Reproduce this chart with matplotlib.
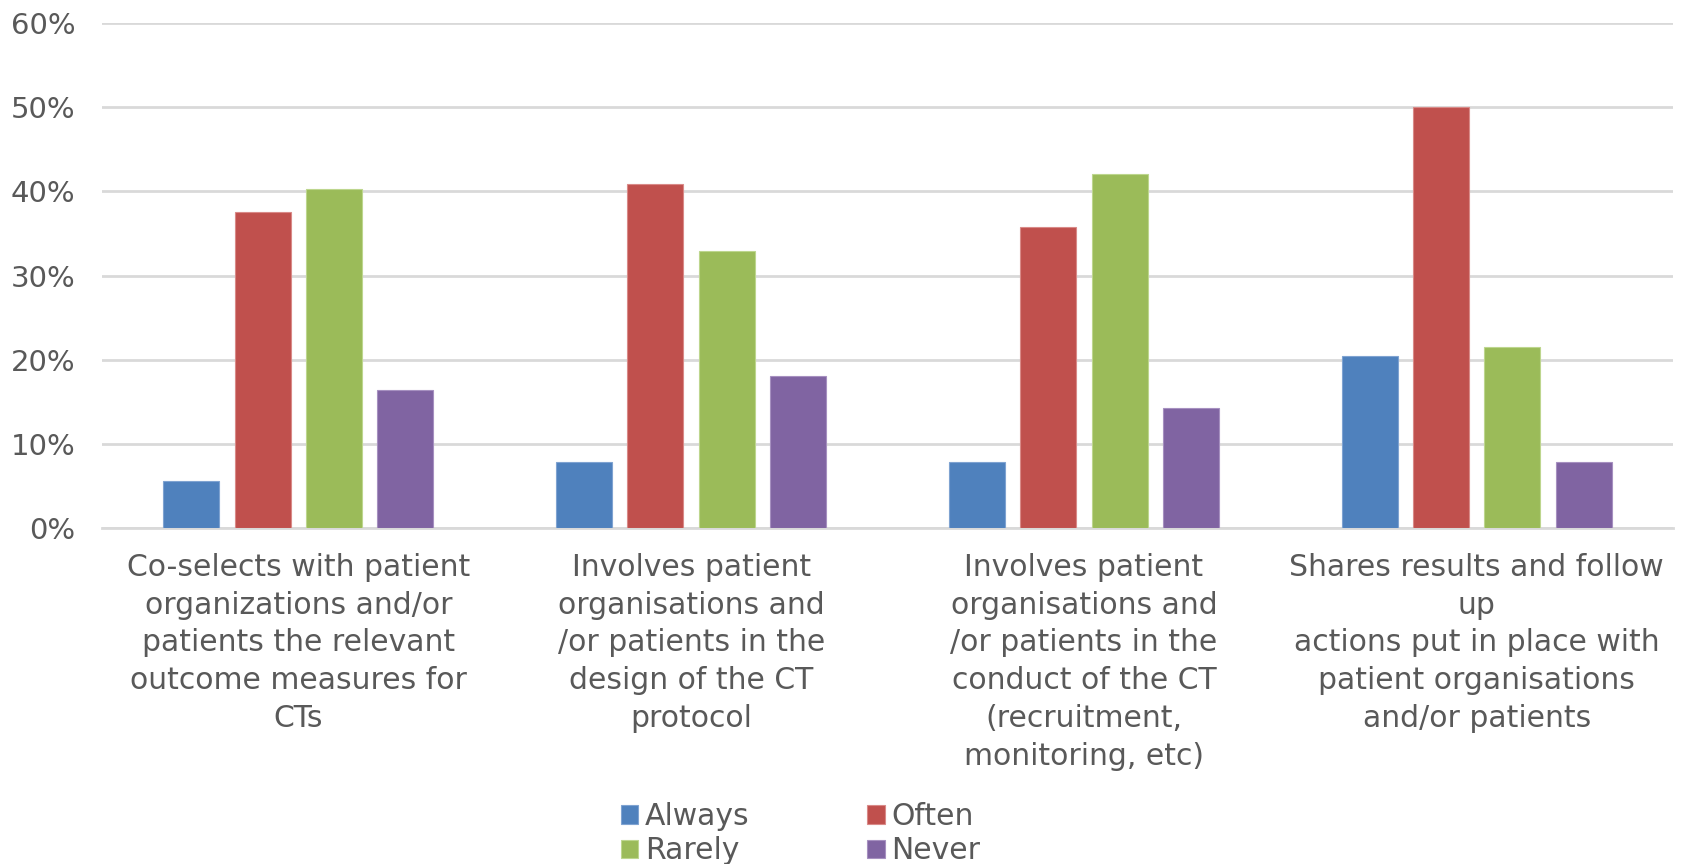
import matplotlib
matplotlib.use("Agg")
import matplotlib.pyplot as plt
import numpy as np
from matplotlib.ticker import FuncFormatter

categories = [
    "Co-selects with patient\norganizations and/or\npatients the relevant\noutcome measures for\nCTs",
    "Involves patient\norganisations and\n/or patients in the\ndesign of the CT\nprotocol",
    "Involves patient\norganisations and\n/or patients in the\nconduct of the CT\n(recruitment,\nmonitoring, etc)",
    "Shares results and follow\nup\nactions put in place with\npatient organisations\nand/or patients",
]
series_names = ["Always", "Often", "Rarely", "Never"]
always = [5.6, 7.9, 7.9, 20.4]
often = [37.5, 40.9, 35.8, 50.0]
rarely = [40.3, 32.9, 42.1, 21.5]
never = [16.4, 18.1, 14.2, 7.9]
yticks = [0, 10, 20, 30, 40, 50, 60]

colors = ["#4F81BD", "#C0504D", "#9BBB59", "#8064A2"]
edges = ["#7FA3D1", "#D98A88", "#BDD68E", "#A690C0"]
text_color = "#595959"

plt.rcParams['font.family'] = ['DejaVu Sans']
FS = 21.5

fig = plt.figure(figsize=(16.85, 8.64), dpi=100)
ax = fig.add_axes([102/1685, 1-528/864, (1673-102)/1685, (528-23)/864])

x = np.arange(len(categories))
width = 0.1426
pitch = 0.1815
data = [always, often, rarely, never]
handles = []
for i, (vals, name) in enumerate(zip(data, series_names)):
    h = ax.bar(x + (i - 1.5) * pitch, vals, width, color=colors[i], label=name,
               edgecolor=edges[i], linewidth=0.8, zorder=3)
    handles.append(h)

ax.set_xlim(-0.5, len(categories) - 0.5)
ax.set_ylim(0, 60)
ax.set_yticks(yticks)
ax.yaxis.set_major_formatter(FuncFormatter(lambda v, p: f"{int(v)}%"))
ax.set_xticks(x)
ax.set_xticklabels(categories, fontsize=FS, color=text_color, linespacing=1.38,
                   ha='center', va='top')
ax.tick_params(axis='x', length=0, pad=18)
ax.tick_params(axis='y', length=0, pad=19, labelsize=FS - 0.5, labelcolor=text_color)
ax.grid(axis='y', color='#D9D9D9', linewidth=2, zorder=0)
for s in ['top', 'right', 'left']:
    ax.spines[s].set_visible(False)
ax.spines['bottom'].set_color('#D9D9D9')
ax.spines['bottom'].set_linewidth(2)
ax.spines['bottom'].set_zorder(0)

order = [0, 2, 1, 3]
leg = fig.legend([handles[i] for i in order], [series_names[i] for i in order],
                 loc='upper left', bbox_to_anchor=(621/1685, 1-802/864), ncol=2,
                 frameon=False, fontsize=FS, handlelength=0.58, handleheight=0.58,
                 handletextpad=0.22, columnspacing=3.95, labelspacing=0.18,
                 borderpad=0, borderaxespad=0)
for t in leg.get_texts():
    t.set_color(text_color)

fig.savefig("out.png", dpi=100)
